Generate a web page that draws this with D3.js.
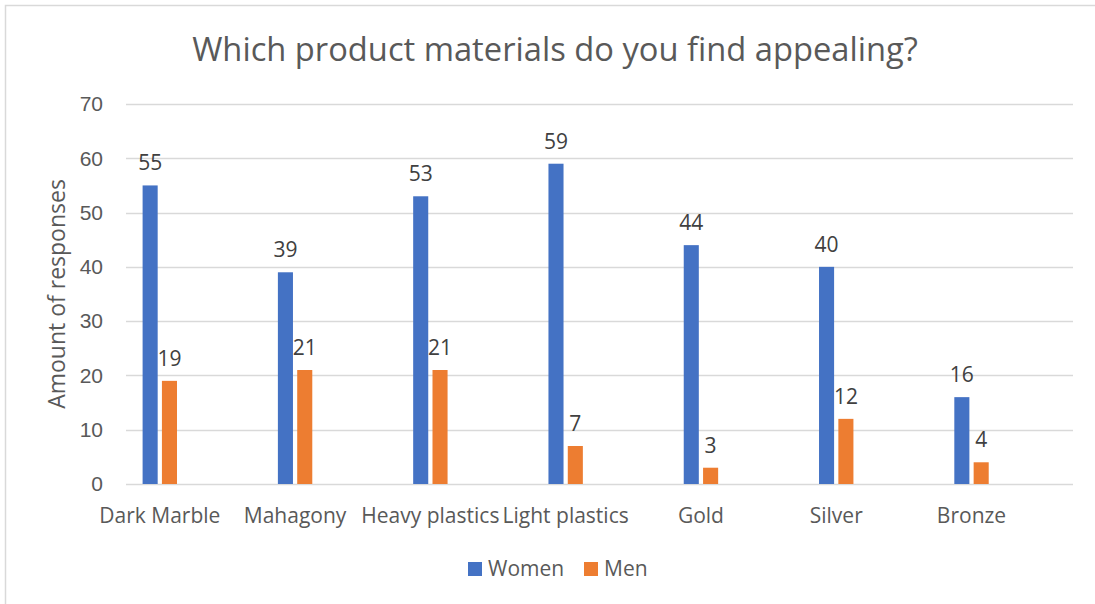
<!DOCTYPE html>
<html>
<head>
<meta charset="utf-8">
<script src="https://cdn.jsdelivr.net/npm/d3@7"></script>
<style>
  html, body { margin: 0; padding: 0; background: #fff; }
  svg { display: block; font-family: "Open Sans", "Noto Sans", sans-serif; }
</style>
</head>
<body>
<svg id="chart" width="1095" height="604"></svg>
<script>
// Survey data
const categories = ["Dark Marble", "Mahagony", "Heavy plastics", "Light plastics", "Gold", "Silver", "Bronze"];
const seriesNames = ["Women", "Men"];
const women = [55, 39, 53, 59, 44, 40, 16];
const men = [19, 21, 21, 7, 3, 12, 4];
const yTicks = [0, 10, 20, 30, 40, 50, 60, 70];
const colors = ["#4472C4", "#ED7D31"];

const svg = d3.select("#chart");
const W = 1095, H = 604;
const plot = { left: 126, right: 1073, top: 104, bottom: 484 };
const textColor = "#595959";

// chart border (top and left edges in view)
svg.append("rect")
  .attr("x", 5.5).attr("y", 5.5)
  .attr("width", W + 20).attr("height", H + 20)
  .attr("fill", "#fff").attr("stroke", "#D9D9D9").attr("stroke-width", 1.5);

// title
svg.append("text")
  .attr("x", 555).attr("y", 61)
  .attr("text-anchor", "middle")
  .attr("font-size", 32.7)
  .attr("fill", textColor)
  .text("Which product materials do you find appealing?");

const y = d3.scaleLinear().domain([0, 70]).range([plot.bottom, plot.top]);
const x0 = d3.scaleBand().domain(categories).range([plot.left, plot.right]).paddingInner(0).paddingOuter(0);
const x1 = d3.scaleBand().domain(seriesNames).range([16.6, 51]).paddingInner(0.22).paddingOuter(0);

// gridlines
svg.append("g").selectAll("line").data(yTicks).join("line")
  .attr("x1", plot.left).attr("x2", plot.right)
  .attr("y1", d => Math.round(y(d)) + 0.5).attr("y2", d => Math.round(y(d)) + 0.5)
  .attr("stroke", "#D9D9D9").attr("stroke-width", 1.5);

// y axis tick labels
const yAxis = d3.axisLeft(y).tickValues(yTicks).tickSize(0).tickPadding(0);
const gy = svg.append("g").attr("transform", `translate(103,0)`).call(yAxis);
gy.select(".domain").remove();
gy.selectAll("text").attr("font-size", 21).attr("fill", textColor).attr("font-family", null);

// y axis title
svg.append("text")
  .attr("transform", `translate(65,294) rotate(-90)`)
  .attr("text-anchor", "middle")
  .attr("font-size", 23)
  .attr("fill", textColor)
  .text("Amount of responses");

// bars
const rows = categories.map((c, i) => ({ cat: c, values: [women[i], men[i]] }));
const groups = svg.append("g").selectAll("g").data(rows).join("g")
  .attr("transform", d => `translate(${x0(d.cat)},0)`);

groups.selectAll("rect").data(d => d.values.map((v, j) => ({ key: seriesNames[j], v, j }))).join("rect")
  .attr("x", d => x1(d.key))
  .attr("width", x1.bandwidth())
  .attr("y", d => y(d.v))
  .attr("height", d => y(0) - y(d.v))
  .attr("fill", d => colors[d.j]);

// value labels
groups.selectAll("text").data(d => d.values.map((v, j) => ({ key: seriesNames[j], v, j }))).join("text")
  .attr("x", d => x1(d.key) + x1.bandwidth() / 2)
  .attr("y", d => y(d.v) - 15)
  .attr("text-anchor", "middle")
  .attr("font-size", 21)
  .attr("fill", "#404040")
  .text(d => d.v);

// category labels, centered under each bar pair
const groupCenter = (x1("Women") + x1("Men") + x1.bandwidth()) / 2;
const gx = svg.append("g");
gx.selectAll("text").data(categories).join("text")
  .attr("x", d => x0(d) + groupCenter)
  .attr("y", 523)
  .attr("text-anchor", "middle")
  .attr("font-size", 21)
  .attr("fill", textColor)
  .text(d => d);

// legend
const legendItems = [
  { name: "Women", color: colors[0], x: 468 },
  { name: "Men", color: colors[1], x: 584 }
];
const lg = svg.append("g").selectAll("g").data(legendItems).join("g")
  .attr("transform", d => `translate(${d.x},0)`);
lg.append("rect").attr("x", 0).attr("y", 562).attr("width", 14).attr("height", 14).attr("fill", d => d.color);
lg.append("text").attr("x", 20).attr("y", 576).attr("font-size", 21).attr("fill", textColor).text(d => d.name);
</script>
</body>
</html>
